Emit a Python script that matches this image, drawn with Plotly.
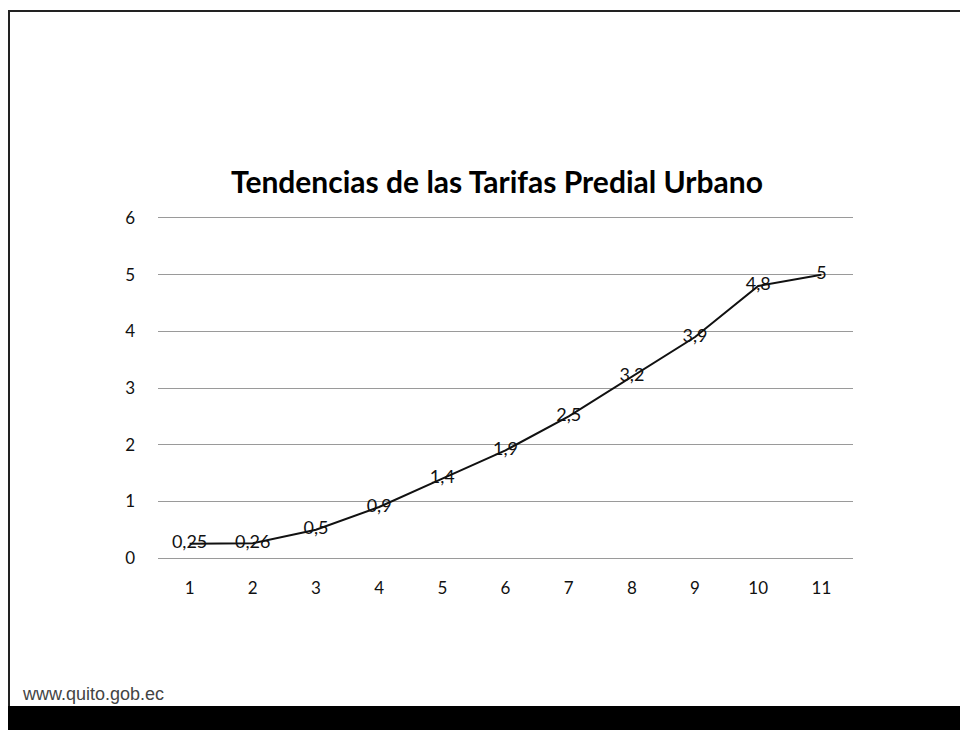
import plotly.graph_objects as go

periods = [1, 2, 3, 4, 5, 6, 7, 8, 9, 10, 11]
tarifas = [0.25, 0.26, 0.5, 0.9, 1.4, 1.9, 2.5, 3.2, 3.9, 4.8, 5]
labels = [str(v).replace(".", ",") for v in tarifas]
y_ticks = [0, 1, 2, 3, 4, 5, 6]

OFF = 8  # page body margin
W, H = 968 - OFF, 730 - OFF
L, R, T, B = 158 - OFF, 853 - OFF, 216 - OFF, 560 - OFF

def px(x):
    return (x - OFF - L) / (R - L)

def py(y):
    return (B - (y - OFF)) / (B - T)

FONT = "Lato, Open Sans, sans-serif"

fig = go.Figure()
fig.add_trace(go.Scatter(
    x=periods, y=tarifas, mode="lines+text",
    text=labels, textposition="middle center",
    textfont=dict(family=FONT, size=18, color="#111"),
    line=dict(color="#111", width=2),
    cliponaxis=False, showlegend=False,
))

fig.update_layout(
    width=W, height=H,
    margin=dict(l=L, r=W - R, t=T, b=H - B, pad=0),
    paper_bgcolor="white", plot_bgcolor="white",
    font=dict(family=FONT, color="#111"),
    xaxis=dict(range=[0.5, 11.5], tickmode="array", tickvals=periods,
               ticktext=[str(p) for p in periods], showgrid=False,
               zeroline=False, showline=False, tickfont=dict(size=17),
               ticks="", ticklabelstandoff=16),
    yaxis=dict(range=[-0.035, 6.035], tickmode="array", tickvals=y_ticks,
               ticktext=[str(t) for t in y_ticks], showgrid=True,
               gridcolor="#9a9a9a", gridwidth=1, zeroline=False,
               showline=False, tickfont=dict(size=17), ticks="",
               ticklabelstandoff=22),
    annotations=[
        dict(text="<b>Tendencias de las Tarifas Predial Urbano</b>",
             xref="paper", yref="paper", x=px(497), y=py(181),
             xanchor="center", yanchor="middle", showarrow=False,
             font=dict(size=30, color="#000", family=FONT)),
        dict(text="www.quito.gob.ec", xref="paper", yref="paper",
             x=px(20), y=py(694), xanchor="left", yanchor="middle",
             showarrow=False,
             font=dict(size=18, color="#444", family="Liberation Sans, Arial, sans-serif")),
    ],
    shapes=[
        dict(type="line", xref="paper", yref="paper", x0=px(8), x1=px(968),
             y0=py(11), y1=py(11), line=dict(color="#222", width=2)),
        dict(type="line", xref="paper", yref="paper", x0=px(9), x1=px(9),
             y0=py(11), y1=py(706), line=dict(color="#222", width=2)),
        dict(type="rect", xref="paper", yref="paper", x0=px(8), x1=px(968),
             y0=py(706), y1=py(730), fillcolor="#000", line=dict(width=0)),
    ],
)

fig.write_html("out.html")
